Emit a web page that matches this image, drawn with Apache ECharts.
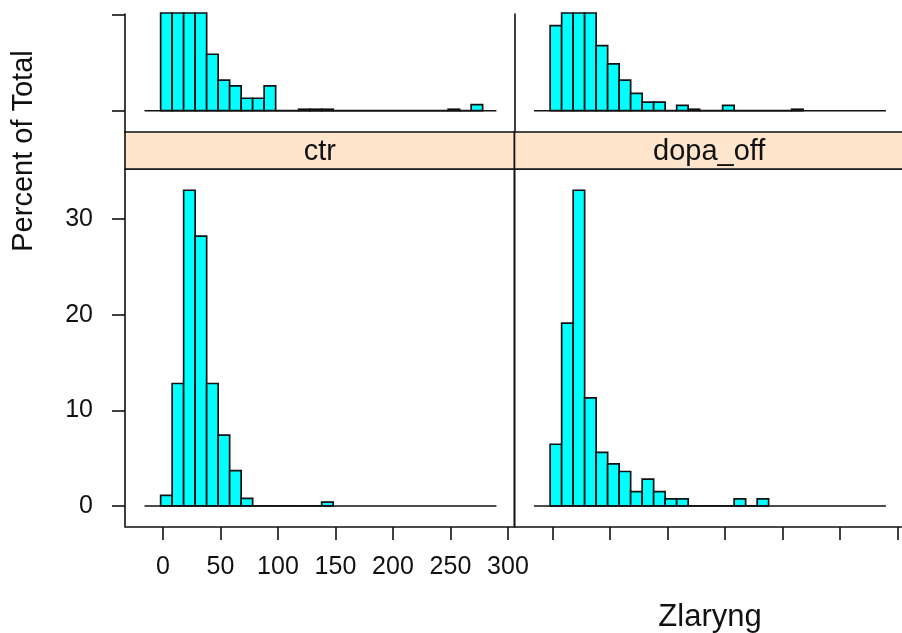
<!DOCTYPE html>
<html>
<head>
<meta charset="utf-8">
<script src="https://cdn.jsdelivr.net/npm/echarts@6/dist/echarts.min.js"></script>
<style>html,body{margin:0;padding:0;background:#fff}#c{width:902px;height:633px}</style>
</head>
<body>
<div id="c"></div>
<script>
// ---- data ----
const binStart = -2;          // left edge of first bin (Zlaryng units)
const binWidth = 10;
const baselineRange = [-16, 290];
const stripLabels = ['ctr', 'dopa_off'];
const xTicks = [0, 50, 100, 150, 200, 250, 300];
const yTicksBottom = [0, 10, 20, 30];
const yTicksTop = [0, 10];
// percent of total per bin (bin i = [binStart+i*w, binStart+(i+1)*w])
const topLeftPct  = [14, 26, 22, 13, 5.9, 3.2, 2.6, 1.3, 1.3, 2.6, 0, 0, 0.15, 0.15, 0.15, 0, 0, 0, 0, 0, 0, 0, 0, 0, 0, 0.15, 0, 0.63];
const topRightPct = [8.9, 17, 21, 12, 6.8, 4.9, 3.2, 1.8, 0.9, 0.9, 0, 0.56, 0.15, 0, 0, 0.56, 0, 0, 0, 0, 0, 0.15];
const ctrPct      = [1.1, 12.8, 33.0, 28.2, 12.8, 7.4, 3.7, 0.8, 0, 0, 0, 0, 0, 0, 0.4];
const dopaOffPct  = [6.45, 19.1, 33.0, 11.3, 5.6, 4.4, 3.6, 1.5, 2.8, 1.5, 0.73, 0.73, 0, 0, 0, 0, 0.73, 0, 0.73];

// ---- layout ----
const FONT = '"Liberation Sans", Arial, Helvetica, sans-serif';
const colLeft = [125, 514.5];
const colW = 389.5;
const topRow = {top: 14, height: 118};
const strip = {top: 132, height: 37};
const botRow = {top: 169, height: 358};
const xMin = -33, xMax = 305.7;
const yTopMin = -2.23, yTopMax = 10.11;
const yBotMin = -2.2, yBotMax = 35.22;

function toBins(p) {
  return p.map((v, i) => [binStart + i * binWidth, binStart + (i + 1) * binWidth, v]);
}

function renderHist(params, api) {
  const x0 = api.value(0), x1 = api.value(1), h = api.value(2);
  const a = api.coord([x0, h]);
  const b = api.coord([x1, 0]);
  const cs = params.coordSys;
  const r = echarts.graphic.clipRectByRect(
    {x: a[0], y: a[1], width: b[0] - a[0], height: b[1] - a[1]},
    {x: cs.x, y: cs.y - 1, width: cs.width, height: cs.height + 1}
  );
  if (!r) return;
  return {type: 'rect', shape: r, style: {fill: '#00FFFF', stroke: '#111', lineWidth: 1.7}};
}

const grids = [
  {left: colLeft[0], width: colW, top: topRow.top, height: topRow.height, show: false},
  {left: colLeft[1], width: colW, top: topRow.top, height: topRow.height, show: false},
  {left: colLeft[0], width: colW, top: botRow.top, height: botRow.height, show: true, borderColor: '#111', borderWidth: 1.6},
  {left: colLeft[1], width: colW, top: botRow.top, height: botRow.height, show: true, borderColor: '#111', borderWidth: 1.6}
].map(g => Object.assign({containLabel: false, outerBoundsMode: 'none', backgroundColor: 'transparent'}, g));

const lineStyle = {color: '#111', width: 1.6};

function xAxisFor(i) {
  const bottom = i >= 2;
  return {
    type: 'value', gridIndex: i, min: xMin, max: xMax, position: 'bottom',
    splitLine: {show: false},
    axisLine: {show: false, onZero: false},
    axisTick: {show: bottom, inside: false, customValues: xTicks, length: 13, lineStyle: lineStyle},
    axisLabel: {show: i === 2, customValues: xTicks, margin: 28, color: '#111', fontSize: 25, fontFamily: FONT}
  };
}
function yAxisFor(i) {
  const top = i < 2;
  const leftCol = i % 2 === 0;
  return {
    type: 'value', gridIndex: i, position: 'left',
    min: top ? yTopMin : yBotMin, max: top ? yTopMax : yBotMax,
    splitLine: {show: false},
    axisLine: {show: top, onZero: false, lineStyle: lineStyle},
    axisTick: {show: leftCol, inside: false, customValues: top ? yTicksTop : yTicksBottom, length: 13, lineStyle: lineStyle},
    axisLabel: {show: leftCol && !top, customValues: yTicksBottom, margin: 32, color: '#111', fontSize: 25, fontFamily: FONT, padding: [6, 0, 0, 0]}
  };
}

const pcts = [topLeftPct, topRightPct, ctrPct, dopaOffPct];
const series = [];
pcts.forEach((p, i) => {
  series.push({
    type: 'line', xAxisIndex: i, yAxisIndex: i, silent: true, symbol: 'none', z: 1,
    data: [[baselineRange[0], 0], [baselineRange[1], 0]],
    lineStyle: {color: '#111', width: 1.6}
  });
  series.push({
    type: 'custom', xAxisIndex: i, yAxisIndex: i, silent: true, z: 2,
    renderItem: renderHist, encode: {x: [0, 1], y: 2},
    data: toBins(p)
  });
});

const graphics = [];
stripLabels.forEach((lab, i) => {
  graphics.push({
    type: 'rect', z: 10,
    shape: {x: colLeft[i], y: strip.top, width: colW, height: strip.height},
    style: {fill: '#FFE5CC', stroke: '#111', lineWidth: 1.6}
  });
  graphics.push({
    type: 'text', z: 11,
    x: colLeft[i] + colW / 2, y: strip.top + strip.height / 2 + 1,
    style: {text: lab, font: '29px ' + FONT, fill: '#111', align: 'center', verticalAlign: 'middle'}
  });
});
graphics.push({
  type: 'text', z: 11, x: 24, y: 151, rotation: Math.PI / 2,
  style: {text: 'Percent of Total', font: '29px ' + FONT, fill: '#111', align: 'center', verticalAlign: 'middle'}
});
graphics.push({
  type: 'text', z: 11, x: 710, y: 617,
  style: {text: 'Zlaryng', font: '31px ' + FONT, fill: '#111', align: 'center', verticalAlign: 'middle'}
});

const chart = echarts.init(document.getElementById('c'), null, {renderer: 'canvas'});
chart.setOption({
  backgroundColor: '#ffffff',
  animation: false,
  grid: grids,
  xAxis: [0, 1, 2, 3].map(xAxisFor),
  yAxis: [0, 1, 2, 3].map(yAxisFor),
  series: series,
  graphic: graphics
});
</script>
</body>
</html>
